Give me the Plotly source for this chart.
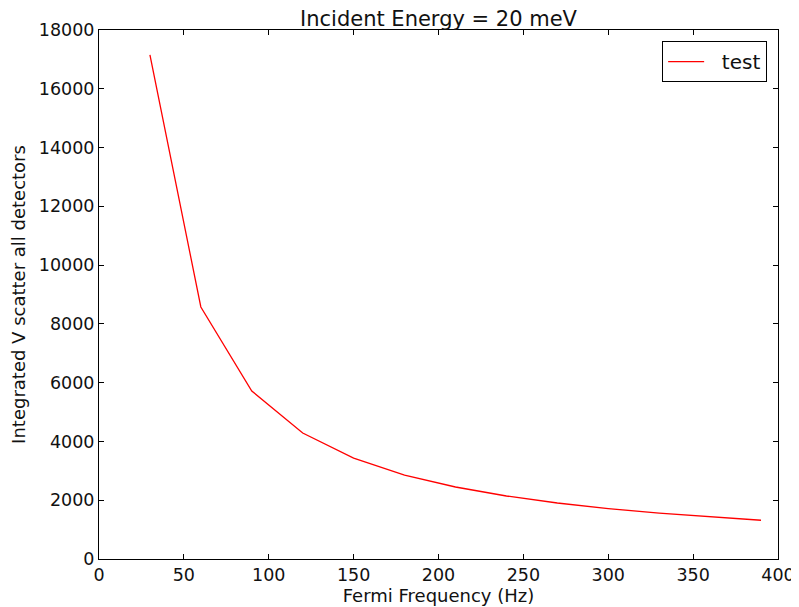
import plotly.graph_objects as go

freq_hz = [30, 60, 90, 120, 150, 180, 210, 240, 270, 300, 330, 360, 390]
integrated_scatter = [17150, 8575, 5717, 4288, 3430, 2858, 2450, 2144, 1906, 1715, 1559, 1429, 1319]
x_ticks = [0, 50, 100, 150, 200, 250, 300, 350, 400]
y_ticks = [0, 2000, 4000, 6000, 8000, 10000, 12000, 14000, 16000, 18000]
series_name = "test"

font_family = "DejaVu Sans, Verdana, sans-serif"

# page body has an 8px margin, so the figure is sized to fill the rest of the 799x607 window
W, H = 791, 599

fig = go.Figure()
fig.add_trace(go.Scatter(x=freq_hz, y=integrated_scatter, mode="lines",
                         name="\u00a0\u00a0" + series_name,
                         line=dict(color="#ff0000", width=1.3)))

axis_common = dict(showgrid=False, zeroline=False, showline=True, linecolor="black", linewidth=1,
                   mirror="ticks", ticks="inside", ticklen=5, tickcolor="black", tickwidth=1,
                   automargin=False,
                   tickfont=dict(family=font_family, size=17.5, color="#111111"))

fig.update_layout(
    width=W, height=H,
    margin=dict(l=91, r=21, t=22, b=48, autoexpand=False),
    paper_bgcolor="white", plot_bgcolor="white",
    title=dict(text="Incident Energy = 20 meV", x=430.5 / W, xanchor="center", y=1 - 11 / H, yanchor="middle",
               font=dict(family=font_family, size=21, color="#111111")),
    xaxis=dict(range=[0, 400], tickvals=x_ticks, ticktext=[str(v) for v in x_ticks],
               title=dict(text="Fermi Frequency (Hz)", standoff=2,
                          font=dict(family=font_family, size=18, color="#111111")), **axis_common),
    yaxis=dict(range=[0, 18000], tickvals=y_ticks, ticktext=[str(v) for v in y_ticks],
               title=dict(text="Integrated V scatter all detectors", standoff=8,
                          font=dict(family=font_family, size=18, color="#111111")), **axis_common),
    showlegend=True,
    legend=dict(x=0.984, y=0.979, xanchor="right", yanchor="top", bordercolor="black", borderwidth=1,
                bgcolor="white", itemwidth=36,
                font=dict(family=font_family, size=20, color="#111111")),
)

fig.write_html("out.html")
